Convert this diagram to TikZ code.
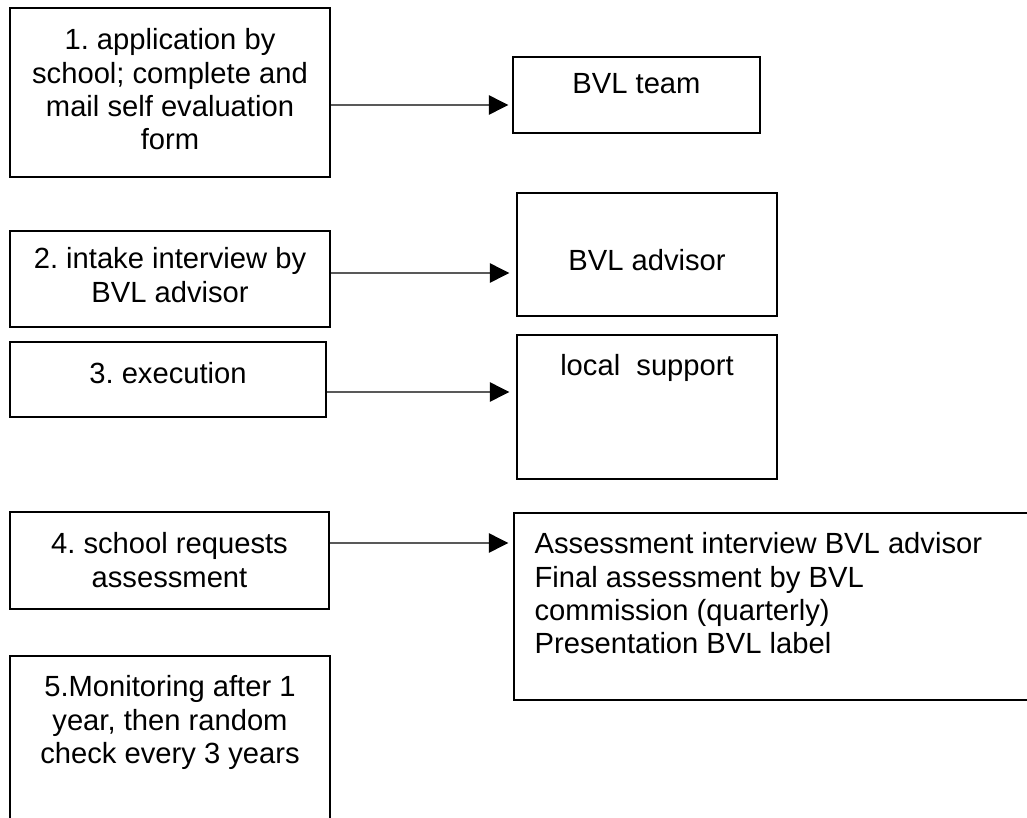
\documentclass[tikz,border=0pt]{standalone}
\usepackage{fontspec}
\setmainfont{Liberation Sans}
\usepackage{tikz}
\usetikzlibrary{arrows.meta, positioning}
\frenchspacing

\begin{document}
\begin{tikzpicture}[
    font=\fontsize{16.6}{19}\selectfont,
    >={Triangle[length=11pt, width=11pt]},
    % Styles
    box/.style={
      draw=black,
      line width=0.8pt,
      inner sep=0pt
    },
    txt/.style={
      inner sep=0pt,
      align=center
    },
    arrow/.style={
      ->,
      line width=0.7pt,
      draw=black
    }
  ]

    % Page frame
    \clip (0,0) rectangle (20.54,-16.36);
    \useasboundingbox (0,0) rectangle (20.54,-16.36);

    % Steps on the left
    \node (s1) [box, minimum width=6.40cm, minimum height=3.38cm] at (3.40, -1.85) {};
    \node (s2) [box, minimum width=6.40cm, minimum height=1.92cm] at (3.40, -5.58) {};
    \node (s3) [box, minimum width=6.32cm, minimum height=1.50cm] at (3.36, -7.59) {};
    \node (s4) [box, minimum width=6.38cm, minimum height=1.94cm] at (3.39, -11.21) {};
    \node (s5) [box, minimum width=6.40cm, minimum height=4.88cm] at (3.40, -15.56) {};

    % Who is involved, on the right
    \node (r1) [box, minimum width=4.94cm, minimum height=1.52cm] at (12.73, -1.90) {};
    \node (r2) [box, minimum width=5.20cm, minimum height=2.46cm] at (12.94, -5.09) {};
    \node (r3) [box, minimum width=5.20cm, minimum height=2.88cm] at (12.94, -8.14) {};
    \node (r4) [box, minimum width=11.72cm, minimum height=3.74cm] at (16.14, -12.13) {};

    % Texts
    \node (s1t) [txt, below=0.42cm of s1.north] {1. application by\\school; complete and\\mail self evaluation\\form};
    \node (s2t) [txt, below=0.34cm of s2.north] {2. intake interview by\\BVL advisor};
    \node (s3t) [txt, below=0.42cm of s3.north] {3. execution};
    \node (s4t) [txt, below=0.42cm of s4.north] {4. school requests\\assessment};
    \node (s5t) [txt, below=0.40cm of s5.north] {5.Monitoring after 1\\year, then random\\check every 3 years};

    \node (r1t) [txt, below=0.34cm of r1.north] {BVL team};
    \node (r2t) [txt, below=1.14cm of r2.north] {BVL advisor};
    \node (r3t) [txt, below=0.40cm of r3.north] {local\ \ support};
    \node (r4t) [txt, align=left, below right=0.40cm and 0.42cm of r4.north west] {Assessment interview BVL advisor\\Final assessment by BVL\\commission (quarterly)\\Presentation BVL label};

    % Connections
    \draw [arrow, shorten >=0.08cm] ([yshift=-0.25cm]s1.east) -- ([yshift=-0.20cm]r1.west);
    \draw [arrow, shorten >=0.14cm] ([yshift=0.12cm]s2.east) -- ([yshift=-0.37cm]r2.west);
    \draw [arrow, shorten >=0.14cm] ([yshift=-0.25cm]s3.east) -- ([yshift=0.30cm]r3.west);
    \draw [arrow, shorten >=0.10cm] ([yshift=0.35cm]s4.east) -- ([yshift=1.27cm]r4.west);

\end{tikzpicture}
\end{document}
